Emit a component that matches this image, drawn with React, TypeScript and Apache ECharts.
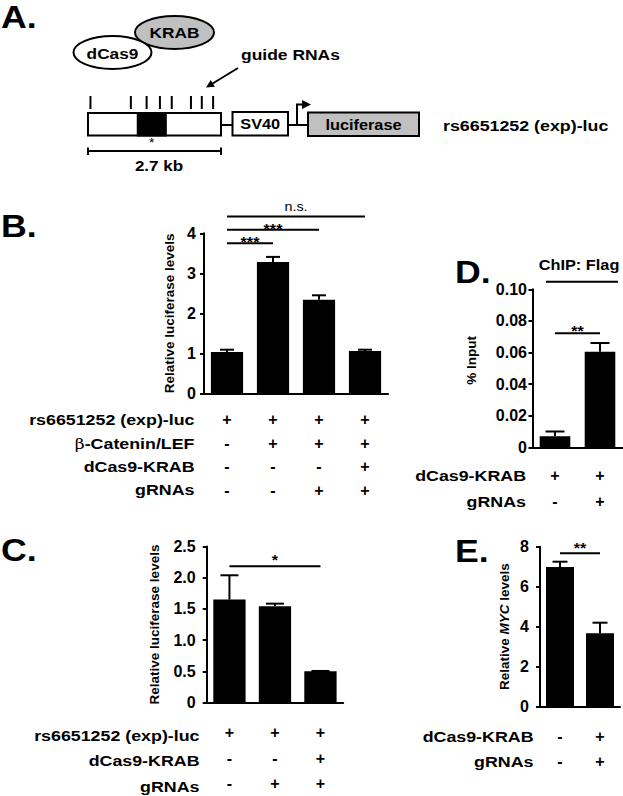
import { useEffect, useRef } from "react";
import * as echarts from "echarts";

// ---------- DATA ----------
// Panel B
const bRowLabels = ["rs6651252 (exp)-luc", "{g|β}-Catenin/LEF", "dCas9-KRAB", "gRNAs"];
const bSigns = [
  ["+", "+", "+", "+"],
  ["-", "+", "+", "+"],
  ["-", "-", "-", "+"],
  ["-", "-", "+", "+"],
];
const bMeans = [1.03, 3.28, 2.34, 1.06];
const bErrors = [0.06, 0.13, 0.11, 0.03];
const bBrackets = [
  [0, 1, 3.75],
  [0, 2, 4.09],
  [0, 3, 4.42],
];
const bBracketLabels = ["***", "***", "n.s."];

// Panel C
const cRowLabels = ["rs6651252 (exp)-luc", "dCas9-KRAB", "gRNAs"];
const cSigns = [
  ["+", "+", "+"],
  ["-", "-", "+"],
  ["-", "+", "+"],
];
const cMeans = [1.65, 1.545, 0.5];
const cErrors = [0.39, 0.04, 0.005];
const cBrackets = [[0, 2, 2.185]];
const cBracketLabels = ["*"];

// Panel D
const dRowLabels = ["dCas9-KRAB", "gRNAs"];
const dSigns = [
  ["+", "+"],
  ["-", "+"],
];
const dMeans = [0.007, 0.0605];
const dErrors = [0.003, 0.0055];
const dBrackets = [[0, 1, 0.0722]];
const dBracketLabels = ["**"];

// Panel E
const eRowLabels = ["dCas9-KRAB", "gRNAs"];
const eSigns = [
  ["-", "+"],
  ["-", "+"],
];
const eMeans = [6.98, 3.67];
const eErrors = [0.27, 0.53];
const eBrackets = [[0, 1, 7.67]];
const eBracketLabels = ["**"];

// Panel A (construct map, in kb along the 2.7 kb region)
const regionKb = 2.7;
const guideSitesKb = [0.05, 0.87, 1.19, 1.46, 1.7, 2.09, 2.31, 2.54];
const enhancerKb = [1.01, 1.58];

// ---------- STYLE ----------
const SX = 1.15; // horizontal stretch of the original lettering
const FONT = '"Liberation Sans", Arial, Helvetica, sans-serif';
const font = (size: number, weight = "bold") => `${weight} ${size}px ${FONT}`;

function txt(x: number, y: number, text: string, size: number, align = "center", extra: any = {}) {
  return {
    type: "text",
    x,
    y,
    scaleX: SX,
    z: 10,
    style: {
      text,
      x: 0,
      y: 0,
      fill: "#000",
      font: font(size),
      textAlign: align,
      align,
      textVerticalAlign: "middle",
      verticalAlign: "middle",
      ...extra,
    },
  };
}

const BLK = { stroke: "#000", lineWidth: 2 };

type Panel = {
  rowLabels: string[];
  signs: string[][];
  means: number[];
  errors: number[];
  brackets: number[][];
  bracketLabels: string[];
  layout: any;
};

const panels: Panel[] = [
  {
    rowLabels: bRowLabels, signs: bSigns, means: bMeans, errors: bErrors,
    brackets: bBrackets, bracketLabels: bBracketLabels,
    layout: {
      grid: { left: 204, top: 233.3, width: 184, height: 160 },
      yMax: 4, yInterval: 1, decimals: 0, yName: "Relative luciferase levels", yNameGap: 28,
      namePad: [0, 0, 0, 0],
      yLabelMargin: 8, rowRight: 194.5, rowFirst: 26.7, rowLH: 23.4, barWidth: "70%", cap: 14,
      starDy: -1, nsDy: -10,
    },
  },
  {
    rowLabels: cRowLabels, signs: cSigns, means: cMeans, errors: cErrors,
    brackets: cBrackets, bracketLabels: cBracketLabels,
    layout: {
      grid: { left: 206.7, top: 546.6, width: 136.5, height: 159.1 },
      yMax: 2.5, yInterval: 0.5, decimals: 1, yName: "Relative luciferase levels", yNameGap: 45,
      namePad: [0, 0, 0, 0],
      yLabelMargin: 11, rowRight: 199.5, rowFirst: 30.3, rowLH: 25.3, barWidth: "71%", cap: 18,
      starDy: -6, nsDy: -10,
    },
  },
  {
    rowLabels: dRowLabels, signs: dSigns, means: dMeans, errors: dErrors,
    brackets: dBrackets, bracketLabels: dBracketLabels,
    layout: {
      grid: { left: 532.5, top: 289.3, width: 90, height: 158 },
      yMax: 0.1, yInterval: 0.02, decimals: 2, yName: "% Input", yNameGap: 54,
      namePad: [0, 0, 0, 16],
      yLabelMargin: 5.5, rowRight: 526, rowFirst: 28.7, rowLH: 25.7, barWidth: "68%", cap: 19,
      starDy: -2.7, nsDy: -10,
    },
  },
  {
    rowLabels: eRowLabels, signs: eSigns, means: eMeans, errors: eErrors,
    brackets: eBrackets, bracketLabels: eBracketLabels,
    layout: {
      grid: { left: 540, top: 546.7, width: 80, height: 160 },
      yMax: 8, yInterval: 2, decimals: 0, yName: "{a|Relative }{i|MYC}{a| levels}", yNameGap: 29,
      namePad: [0, 0, 0, 0],
      yLabelMargin: 11, rowRight: 533.5, rowFirst: 30, rowLH: 25, barWidth: "70%", cap: 15,
      starDy: -5.2, nsDy: -10,
    },
  },
];

function buildOption() {
  const grid: any[] = [];
  const xAxis: any[] = [];
  const yAxis: any[] = [];
  const series: any[] = [];
  const graphic: any[] = [];
  const NAME_SIZE = 13.5;

  panels.forEach((p, i) => {
    const L = p.layout;
    grid.push({ ...L.grid, containLabel: false });
    const nCols = p.means.length;
    const cats = Array.from({ length: nCols }, (_, c) => p.signs.map((r) => r[c]).join("\n"));
    xAxis.push({
      type: "category",
      gridIndex: i,
      data: cats,
      axisLine: { lineStyle: { color: "#000", width: 2 } },
      axisTick: { alignWithLabel: true, length: 6, lineStyle: { color: "#000", width: 2 } },
      axisLabel: {
        interval: 0,
        margin: L.rowFirst - L.rowLH / 2,
        lineHeight: L.rowLH,
        color: "#000",
        fontFamily: FONT,
        fontWeight: "bold",
        fontSize: 16,
      },
      splitLine: { show: false },
    });
    const richName = {
      a: { fontFamily: FONT, fontWeight: "bold", fontSize: NAME_SIZE, color: "#000" },
      i: { fontFamily: FONT, fontWeight: "bold", fontStyle: "italic", fontSize: NAME_SIZE, color: "#000" },
    };
    yAxis.push({
      type: "value",
      gridIndex: i,
      min: 0,
      max: L.yMax,
      interval: L.yInterval,
      name: L.yName,
      nameLocation: "middle",
      nameGap: L.yNameGap,
      nameRotate: 90,
      nameTextStyle: {
        fontFamily: FONT,
        fontWeight: "bold",
        fontSize: NAME_SIZE,
        color: "#000",
        padding: L.namePad,
        rich: richName,
      },
      axisLine: { show: true, lineStyle: { color: "#000", width: 2 } },
      axisTick: { show: true, length: 4, lineStyle: { color: "#000", width: 2 } },
      axisLabel: {
        margin: L.yLabelMargin,
        color: "#000",
        fontFamily: FONT,
        fontWeight: "bold",
        fontSize: 16,
        formatter: (v: number) => (v === 0 ? "0" : v.toFixed(L.decimals)),
      },
      splitLine: { show: false },
    });
    series.push({
      type: "bar",
      xAxisIndex: i,
      yAxisIndex: i,
      data: p.means,
      barWidth: L.barWidth,
      itemStyle: { color: "#000" },
      z: 2,
    });
    series.push({
      type: "custom",
      xAxisIndex: i,
      yAxisIndex: i,
      data: p.means.map((m, k) => [k, m, p.errors[k]]),
      encode: { x: 0, y: 1 },
      z: 3,
      renderItem: (_params: any, api: any) => {
        const x = api.value(0);
        const m = api.value(1);
        const e = api.value(2);
        const p0 = api.coord([x, m]);
        const p1 = api.coord([x, m + e]);
        const h = L.cap / 2;
        return {
          type: "group",
          children: [
            { type: "line", shape: { x1: p0[0], y1: p0[1], x2: p1[0], y2: p1[1] }, style: BLK },
            { type: "line", shape: { x1: p1[0] - h, y1: p1[1], x2: p1[0] + h, y2: p1[1] }, style: BLK },
          ],
        };
      },
    });
    series.push({
      type: "custom",
      xAxisIndex: i,
      yAxisIndex: i,
      data: p.brackets,
      encode: { x: [0, 1], y: 2 },
      z: 4,
      renderItem: (params: any, api: any) => {
        const a = api.coord([api.value(0), api.value(2)]);
        const b = api.coord([api.value(1), api.value(2)]);
        const lab = p.bracketLabels[params.dataIndex];
        const isNs = lab === "n.s.";
        return {
          type: "group",
          children: [
            { type: "line", shape: { x1: a[0], y1: a[1], x2: b[0], y2: b[1] }, style: BLK },
            {
              type: "text",
              x: (a[0] + b[0]) / 2,
              y: a[1] + (isNs ? L.nsDy : L.starDy),
              scaleX: SX,
              style: {
                text: lab,
                x: 0,
                y: 0,
                fill: "#000",
                font: isNs ? font(12.5, "normal") : font(14, "bold"),
                textAlign: "center",
                align: "center",
                textVerticalAlign: "middle",
                verticalAlign: "middle",
              },
            },
          ],
        };
      },
    });
    // row titles to the left of the +/- rows
    const bottom = L.grid.top + L.grid.height;
    p.rowLabels.forEach((lab, r) => {
      graphic.push(
        txt(L.rowRight, bottom + L.rowFirst + r * L.rowLH, lab, 15.5, "right", {
          rich: { g: { fontFamily: '"DejaVu Serif", serif', fontWeight: "normal", fontSize: 15, fill: "#000" } },
        })
      );
    });
  });

  // Panel letters
  graphic.push(txt(1, 17, "A.", 31, "left"));
  graphic.push(txt(1, 226.5, "B.", 31, "left"));
  graphic.push(txt(1, 550, "C.", 31, "left"));
  graphic.push(txt(455, 272, "D.", 31, "left"));
  graphic.push(txt(455, 551.5, "E.", 31, "left"));

  // ChIP: Flag header over panel D
  graphic.push(txt(579, 265, "ChIP: Flag", 14.2));
  graphic.push({ type: "line", z: 5, shape: { x1: 546, y1: 281.7, x2: 618, y2: 281.7 }, style: BLK });

  // Panel A construct diagram
  const bx = 88, bw = 133, by = 113, bh = 22.5;
  const kx = (kb: number) => bx + (kb / regionKb) * bw;
  graphic.push({ type: "ellipse", z: 5, shape: { cx: 174.5, cy: 32.5, rx: 39.5, ry: 16.5 }, style: { fill: "#c0c0c0", ...BLK } });
  graphic.push({ type: "ellipse", z: 6, shape: { cx: 112.5, cy: 52.5, rx: 39, ry: 16.5 }, style: { fill: "#fff", ...BLK } });
  graphic.push(txt(174.5, 32.5, "KRAB", 15));
  graphic.push(txt(112.5, 53, "dCas9", 15));
  graphic.push(txt(241, 54, "guide RNAs", 15.2, "left"));
  graphic.push({ type: "line", z: 5, shape: { x1: 238, y1: 68, x2: 211, y2: 84.5 }, style: BLK });
  graphic.push({ type: "polygon", z: 5, shape: { points: [[206, 87.5], [214.9, 86.7], [210.7, 79.9]] }, style: { fill: "#000" } });
  guideSitesKb.forEach((kb) => {
    graphic.push({ type: "line", z: 5, shape: { x1: kx(kb), y1: 96, x2: kx(kb), y2: 109 }, style: BLK });
  });
  graphic.push({ type: "rect", z: 5, shape: { x: bx, y: by, width: bw, height: bh }, style: { fill: "#fff", ...BLK } });
  graphic.push({
    type: "rect",
    z: 6,
    shape: { x: kx(enhancerKb[0]), y: by, width: kx(enhancerKb[1]) - kx(enhancerKb[0]), height: bh },
    style: { fill: "#000", ...BLK },
  });
  graphic.push(txt((kx(enhancerKb[0]) + kx(enhancerKb[1])) / 2, 143, "*", 12, "center", { font: font(12, "normal") }));
  // scale bar
  graphic.push({ type: "line", z: 5, shape: { x1: bx, y1: 151, x2: bx + bw, y2: 151 }, style: BLK });
  graphic.push({ type: "line", z: 5, shape: { x1: bx, y1: 147.5, x2: bx, y2: 155 }, style: BLK });
  graphic.push({ type: "line", z: 5, shape: { x1: bx + bw, y1: 147.5, x2: bx + bw, y2: 155 }, style: BLK });
  graphic.push(txt(159, 166, "2.7 kb", 14.8));
  // SV40 + promoter + luciferase
  graphic.push({ type: "line", z: 5, shape: { x1: bx + bw, y1: 125, x2: 232, y2: 125 }, style: BLK });
  graphic.push({ type: "rect", z: 5, shape: { x: 232.5, y: 112, width: 55.5, height: 23.5 }, style: { fill: "#fff", ...BLK } });
  graphic.push(txt(260.2, 124, "SV40", 14.2));
  graphic.push({ type: "line", z: 5, shape: { x1: 288, y1: 125, x2: 308, y2: 125 }, style: BLK });
  graphic.push({ type: "polyline", z: 5, shape: { points: [[297, 125], [297, 104.5], [303, 104.5]] }, style: { ...BLK, fill: null } });
  graphic.push({ type: "polygon", z: 5, shape: { points: [[302, 100], [311, 104.5], [302, 109]] }, style: { fill: "#000" } });
  graphic.push({ type: "rect", z: 5, shape: { x: 308, y: 112.5, width: 111, height: 23.5 }, style: { fill: "#c0c0c0", ...BLK } });
  graphic.push(txt(363.5, 124.5, "luciferase", 14.2));
  graphic.push(txt(443, 126, "rs6651252 (exp)-luc", 15.5, "left"));

  return {
    animation: false,
    backgroundColor: "#fff",
    textStyle: { fontFamily: FONT },
    grid,
    xAxis,
    yAxis,
    series,
    graphic,
  };
}

export default function App() {
  const ref = useRef<HTMLDivElement>(null);
  useEffect(() => {
    const chart = echarts.init(ref.current!, undefined, { renderer: "svg" });
    chart.setOption(buildOption() as any);
    return () => chart.dispose();
  }, []);
  return (
    <div
      ref={ref}
      style={{ position: "absolute", left: 0, top: 0, width: 623, height: 796, background: "#fff" }}
    />
  );
}
